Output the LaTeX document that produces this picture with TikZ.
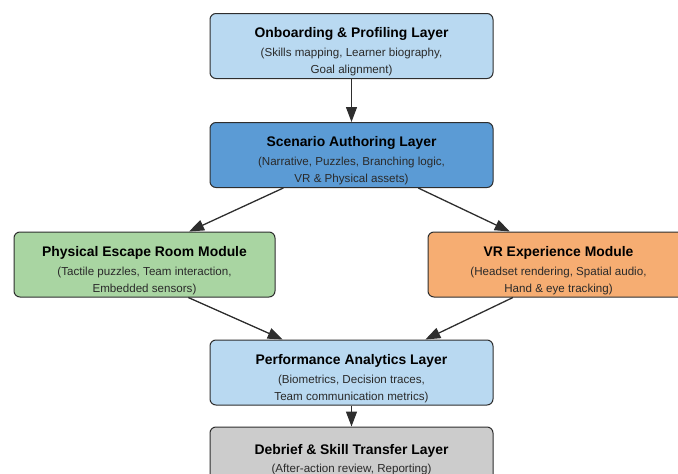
\documentclass[tikz,border=0pt]{standalone}
\usepackage{fontspec}
\setmainfont{Liberation Sans}
\usetikzlibrary{arrows.meta, positioning, calc}
\definecolor{layerblue}{HTML}{B9D9F1}
\definecolor{authorblue}{HTML}{5B9BD5}
\definecolor{physgreen}{HTML}{A9D5A2}
\definecolor{vrorange}{HTML}{F6AD72}
\definecolor{debriefgray}{HTML}{CCCCCC}
\definecolor{edgegray}{HTML}{2E2E2E}
\definecolor{subgray}{HTML}{2A2A2A}

\newcommand{\layertitle}[2][22pt]{{\rule{0pt}{#1}\fontsize{13.9}{16}\selectfont\bfseries\color{black}#2}}

\begin{document}
\begin{tikzpicture}[
    x=1pt, y=-1pt,
    layer/.style={draw=edgegray, line width=1pt, rounded corners=6pt,
                 minimum width=283pt, minimum height=65pt, inner sep=0pt,
                 align=center, text=subgray, font=\fontsize{11.6}{17}\selectfont},
    module/.style={layer, minimum width=261pt},
    arr/.style={-{Triangle[length=15pt, width=11pt]}, line width=1.3pt, edgegray},
]
    \clip (0,0) rectangle (678,474);

    \node[layer, fill=layerblue] (onb) at (351.5, 46)
        {\layertitle{Onboarding \& Profiling Layer}\\[2pt](Skills mapping, Learner biography,\\Goal alignment)};
    \node[layer, fill=authorblue] (scen) at (351.5, 155)
        {\layertitle{Scenario Authoring Layer}\\[2pt](Narrative, Puzzles, Branching logic,\\VR \& Physical assets)};
    \node[module, fill=physgreen] (phys) at (144.5, 264.5)
        {\layertitle{Physical Escape Room Module}\\[2pt](Tactile puzzles, Team interaction,\\Embedded sensors)};
    \node[module, fill=vrorange] (vr) at (558.5, 264.5)
        {\layertitle{VR Experience Module}\\[2pt](Headset rendering, Spatial audio,\\Hand \& eye tracking)};
    \node[layer, fill=layerblue] (perf) at (351.5, 372.5)
        {\layertitle{Performance Analytics Layer}\\[2pt](Biometrics, Decision traces,\\Team communication metrics)};
    \node[layer, fill=debriefgray] (debrief) at (351.5, 459.5)
        {\layertitle[0pt]{Debrief \& Skill Transfer Layer}\\[1pt](After-action review, Reporting)};

    \draw[arr] (onb) -- (scen);
    \draw[arr] ($(scen.south west)!0.26!(scen.south east)$) -- ($(phys.north west)!0.67!(phys.north east)$);
    \draw[arr] ($(scen.south west)!0.735!(scen.south east)$) -- ($(vr.north west)!0.314!(vr.north east)$);
    \draw[arr] ($(phys.south west)!0.667!(phys.south east)$) -- ($(perf.north west)!0.258!(perf.north east)$);
    \draw[arr] ($(vr.south west)!0.326!(vr.south east)$) -- ($(perf.north west)!0.76!(perf.north east)$);
    \draw[arr] (perf) -- (debrief);
\end{tikzpicture}
\end{document}
